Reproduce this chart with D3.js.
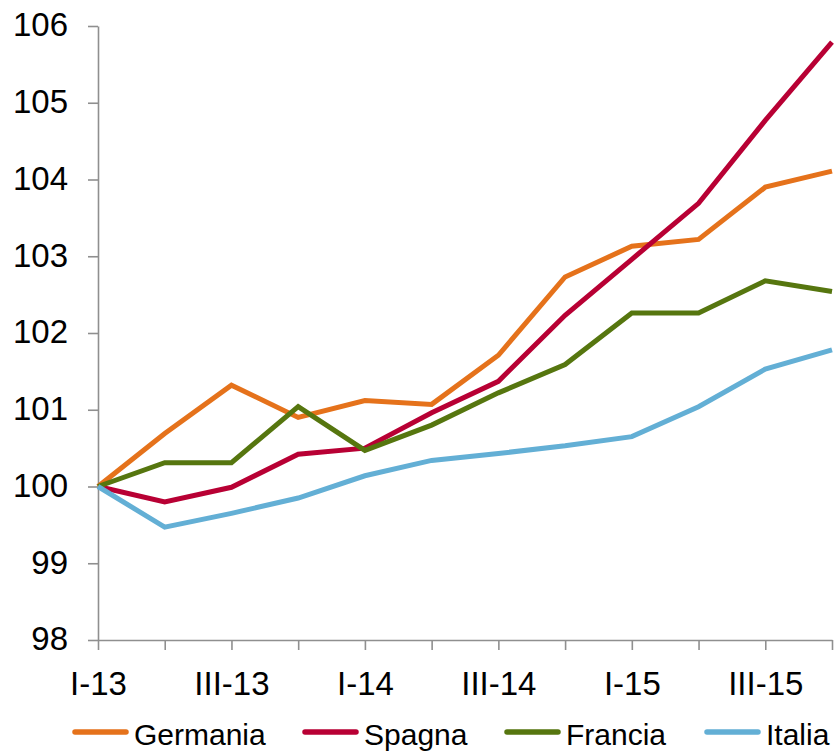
<!DOCTYPE html>
<html>
<head>
<meta charset="utf-8">
<script src="https://cdn.jsdelivr.net/npm/d3@7"></script>
<style>
  html, body { margin: 0; padding: 0; background: #fff; }
  svg { display: block; }
</style>
</head>
<body>
<svg id="chart" width="837" height="752"></svg>
<script>
// Quarterly index, I-13 = 100
const quarters = ["I-13", "II-13", "III-13", "IV-13", "I-14", "II-14", "III-14", "IV-14", "I-15", "II-15", "III-15", "IV-15"];
const yTicks = [98, 99, 100, 101, 102, 103, 104, 105, 106];

const seriesNames = ["Germania", "Spagna", "Francia", "Italia"];
const germania = [100, 100.69, 101.32, 100.90, 101.12, 101.07, 101.71, 102.73, 103.13, 103.22, 103.90, 104.11];
const spagna   = [100, 99.80, 99.99, 100.42, 100.50, 100.96, 101.37, 102.23, 102.96, 103.69, 104.77, 105.79];
const francia  = [100, 100.31, 100.31, 101.04, 100.47, 100.80, 101.22, 101.59, 102.26, 102.26, 102.68, 102.54];
const italia   = [100, 99.47, 99.65, 99.85, 100.14, 100.34, 100.43, 100.53, 100.65, 101.04, 101.53, 101.78];
const colors   = ["#E5721B", "#B80034", "#56760F", "#63AFD5"];

const series = [germania, spagna, francia, italia];

const svg = d3.select("#chart");
const plot = { left: 98, right: 832, top: 26, bottom: 640 };
const axisColor = "#8f8f8f";
const tickFont = "'Liberation Sans Narrow', 'Arial Narrow', sans-serif";

const x = d3.scalePoint().domain(quarters).range([plot.left, plot.right]);
const y = d3.scaleLinear().domain([98, 106]).range([plot.bottom, plot.top]);

// Y axis
const yAxis = svg.append("g")
  .attr("transform", `translate(${plot.left},0)`)
  .call(d3.axisLeft(y).tickValues(yTicks).tickFormat(d3.format("d")).tickSizeInner(10).tickSizeOuter(0).tickPadding(20));
yAxis.select(".domain").attr("stroke", axisColor).attr("stroke-width", 1.6);
yAxis.selectAll(".tick line").attr("stroke", axisColor).attr("stroke-width", 1.6);
yAxis.selectAll(".tick text")
  .attr("fill", "#000")
  .attr("font-family", tickFont)
  .attr("font-size", 33)
  .attr("dy", "0.3em");

// X axis: a label on every other quarter
const xAxis = svg.append("g")
  .attr("transform", `translate(0,${plot.bottom})`)
  .call(d3.axisBottom(x).tickSizeInner(10).tickSizeOuter(0).tickPadding(22)
    .tickFormat((d, i) => (i % 2 === 0 ? d : "")));
xAxis.select(".domain").attr("stroke", axisColor).attr("stroke-width", 1.6);
xAxis.selectAll(".tick line").attr("stroke", axisColor).attr("stroke-width", 1.6);
xAxis.selectAll(".tick text")
  .attr("fill", "#000")
  .attr("font-family", tickFont)
  .attr("font-size", 33)
  .attr("dy", "0.71em");

// Lines
const line = d3.line()
  .x((d, i) => x(quarters[i]))
  .y(d => y(d));

svg.append("g")
  .selectAll("path")
  .data(series)
  .join("path")
  .attr("d", d => line(d))
  .attr("fill", "none")
  .attr("stroke", (d, i) => colors[i])
  .attr("stroke-width", 5);

// Legend
const legendX = [73, 303, 505, 705];
const legendY = 732;
const legend = svg.append("g")
  .selectAll("g")
  .data(seriesNames)
  .join("g")
  .attr("transform", (d, i) => `translate(${legendX[i]},${legendY})`);
legend.append("line")
  .attr("x1", 2).attr("x2", 53)
  .attr("y1", 0).attr("y2", 0)
  .attr("stroke", (d, i) => colors[i])
  .attr("stroke-width", 5.5)
  .attr("stroke-linecap", "round");
legend.append("text")
  .attr("x", 61)
  .attr("y", 13)
  .attr("font-family", "'Liberation Sans', Arial, sans-serif")
  .attr("font-size", 30)
  .attr("fill", "#000")
  .text(d => d);
</script>
</body>
</html>
